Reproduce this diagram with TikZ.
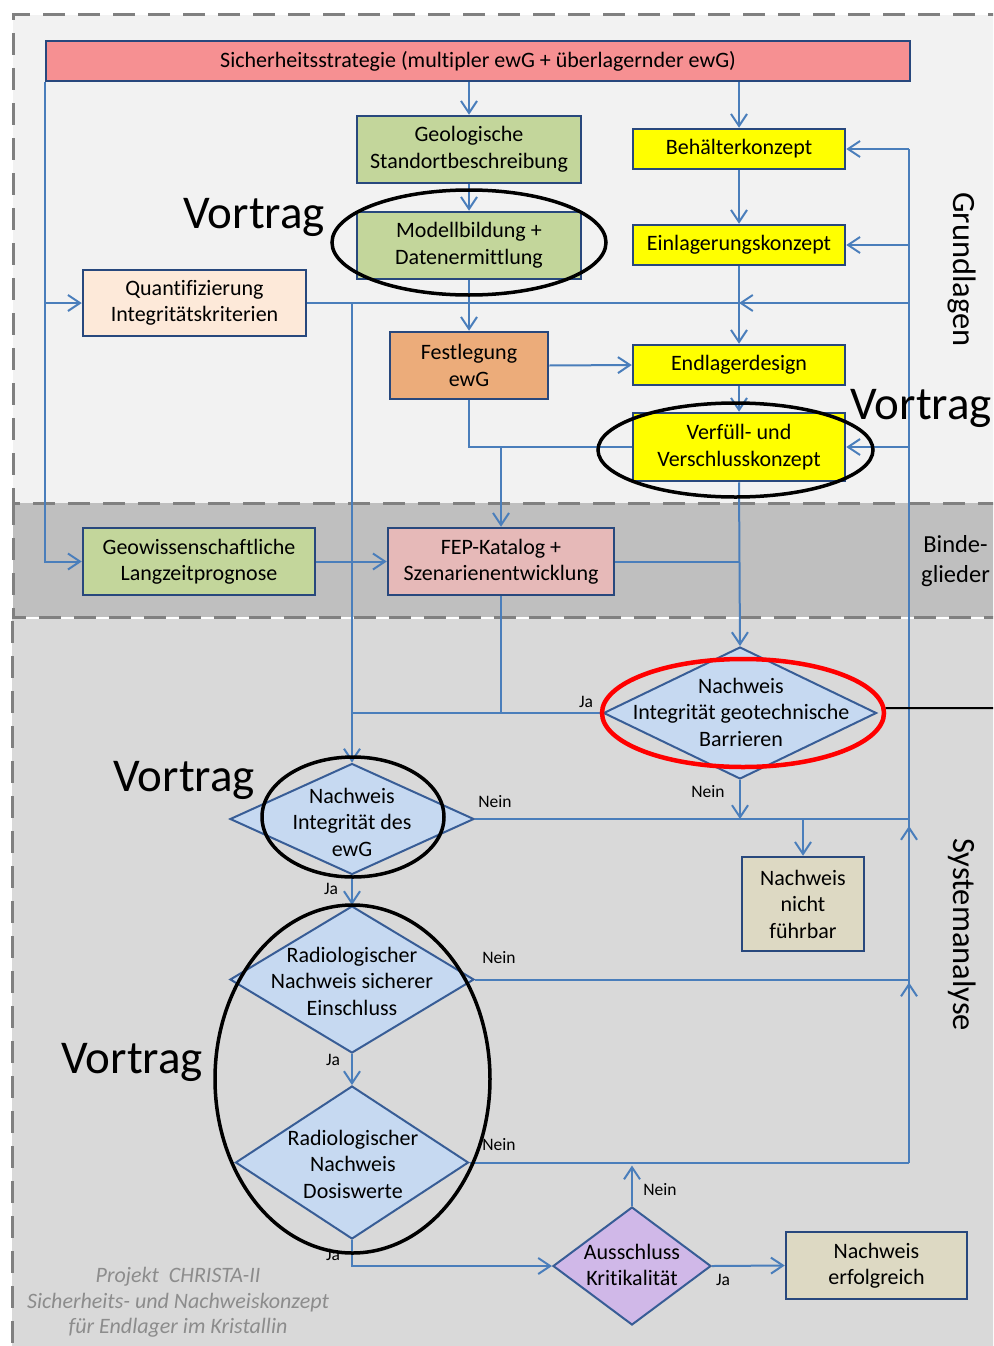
\documentclass[tikz,border=0pt]{standalone}
\usepackage{fontspec}
\setmainfont{Carlito}[Ligatures=NoCommon]
\usetikzlibrary{arrows.meta,shapes.geometric}

\definecolor{bgtop}{RGB}{242,242,242}
\definecolor{bgmid}{RGB}{191,191,191}
\definecolor{bglow}{RGB}{217,217,217}
\definecolor{framegray}{RGB}{128,128,128}
\definecolor{boxline}{RGB}{40,72,125}
\definecolor{linkblue}{RGB}{74,126,187}
\definecolor{dline}{RGB}{56,93,150}
\definecolor{stratfill}{RGB}{246,144,146}
\definecolor{geofill}{RGB}{195,214,155}
\definecolor{conceptfill}{RGB}{255,255,0}
\definecolor{quantfill}{RGB}{253,233,217}
\definecolor{ewgfill}{RGB}{236,172,122}
\definecolor{fepfill}{RGB}{230,185,184}
\definecolor{resultfill}{RGB}{221,217,195}
\definecolor{decfill}{RGB}{198,217,241}
\definecolor{critfill}{RGB}{208,184,232}
\definecolor{footgray}{RGB}{140,140,140}

\tikzset{
  box/.style={draw=boxline, line width=2.5pt, rectangle, inner sep=0pt, align=center,
    font=\fontsize{22}{26.5}\selectfont},
  decision/.style={draw=dline, line width=2pt, diamond, inner sep=0pt, fill=decfill},
  dtext/.style={align=center, inner sep=0pt, font=\fontsize{22}{26.5}\selectfont},
  link/.style={draw=linkblue, line width=2pt},
  arr/.style={link, -{Straight Barb[length=12pt,width=16pt]}},
  lbl/.style={inner sep=0pt, font=\fontsize{17.5}{20}\selectfont},
  talk/.style={inner sep=0pt, anchor=base west, font=\fontsize{47}{50}\selectfont},
  ring/.style={draw=black, line width=3.5pt, ellipse, inner sep=0pt},
  zone/.style={inner sep=0pt, font=\fontsize{32.5}{36}\selectfont},
  zoneframe/.style={draw=framegray, line width=3pt, dash pattern=on 22pt off 13pt},
  foot/.style={inner sep=0pt, anchor=base, text=footgray, font=\fontsize{22}{25}\selectfont\itshape},
}

\begin{document}
\begin{tikzpicture}[x=1pt,y=-1pt]
\useasboundingbox (0,0) rectangle (993,1346);
\clip (0,0) rectangle (993,1346);
\fill[white] (0,0) rectangle (993,1346);

% zones
\fill[bglow] (12,619) rectangle (1010,1360);
\fill[bgtop] (13,15) rectangle (1010,503);
\fill[bgmid] (13,503) rectangle (1010,617);
\draw[zoneframe] (1010,15) -- (13,15) -- (13,503) -- (1010,503);
\draw[zoneframe] (13,503) -- (13,617) -- (1010,617);
\draw[zoneframe] (12,621) -- (12,1360);

% boxes
\node[box, fill=stratfill, minimum width=864pt, minimum height=40pt] (strat) at (478,61)
  {Sicherheitsstrategie (multipler ewG + überlagernder ewG)};
\node[box, fill=geofill, minimum width=224pt, minimum height=67pt] (geo) at (469,149.5)
  {Geologische\\Standortbeschreibung};
\node[box, fill=geofill, minimum width=224pt, minimum height=67pt] (modell) at (469,245.5)
  {Modellbildung +\\Datenermittlung};
\node[box, fill=conceptfill, minimum width=212pt, minimum height=40pt] (beh) at (739,149)
  {Behälterkonzept};
\node[box, fill=conceptfill, minimum width=212pt, minimum height=40pt] (einl) at (739,245)
  {Einlagerungskonzept};
\node[box, fill=quantfill, minimum width=223pt, minimum height=66pt] (quant) at (194.5,303)
  {Quantifizierung\\Integritätskriterien};
\node[box, fill=ewgfill, minimum width=158pt, minimum height=67pt] (fest) at (469,365.5)
  {Festlegung\\ewG};
\node[box, fill=conceptfill, minimum width=212pt, minimum height=40pt] (endl) at (739,365)
  {Endlagerdesign};
\node[box, fill=conceptfill, minimum width=212pt, minimum height=68pt] (verf) at (739,447)
  {Verfüll- und\\Verschlusskonzept};
\node[box, fill=geofill, minimum width=232pt, minimum height=67pt] (geow) at (199,561.5)
  {Geowissenschaftliche\\Langzeitprognose};
\node[box, fill=fepfill, minimum width=226pt, minimum height=67pt] (fep) at (501,561.5)
  {FEP-Katalog +\\Szenarienentwicklung};
\node[box, fill=resultfill, minimum width=122pt, minimum height=94pt] (nfb) at (803,904)
  {Nachweis\\nicht\\führbar};
\node[box, fill=resultfill, minimum width=181pt, minimum height=67pt] (erf) at (876.5,1265.5)
  {Nachweis\\erfolgreich};

% decisions
\node[decision, minimum width=273pt, minimum height=132pt] (dgeo) at (740,713) {};
\node[decision, minimum width=244pt, minimum height=111pt] (dewg) at (352,819) {};
\node[decision, minimum width=244pt, minimum height=147pt] (dein) at (352,979.5) {};
\node[decision, minimum width=233pt, minimum height=153pt] (ddos) at (352,1162.5) {};
\node[decision, fill=critfill, minimum width=158pt, minimum height=118pt] (dkrit) at (632,1266) {};

\node[dtext] (tgeo) at (741,712) {Nachweis\\Integrität geotechnische\\Barrieren};
\node[dtext] (tewg) at (352,822) {Nachweis\\Integrität des\\ewG};
\node[dtext] (tein) at (352,981) {Radiologischer\\Nachweis sicherer\\Einschluss};
\node[dtext] (tdos) at (353,1164) {Radiologischer\\Nachweis\\Dosiswerte};
\node[dtext] (tkrit) at (632,1265) {Ausschluss\\Kritikalität};

% right-hand feedback column
\coordinate (rc) at (909,0);

% connectors
\draw[arr] (strat.south -| geo.north) -- (geo.north);
\draw[arr] (strat.south -| beh.north) -- (beh.north);
\draw[arr] (strat.south west) |- (quant.west);
\draw[arr] (strat.south west) |- (geow.west);
\draw[arr] (geo.south) -- (modell.north);
\draw[arr] (modell.south) -- (fest.north);
\draw[arr] (beh.south) -- (einl.north);
\draw[arr] (einl.south) -- (endl.north);
\draw[arr] (endl.south) -- (verf.north);
\draw[arr] (fest.east) -- (endl.west);
\draw[link] (fest.south) |- (verf.west);
\draw[arr] (verf.west -| fep.north) -- (fep.north);
\draw[link] (quant.east) -- (quant.east -| rc);
\draw[arr] (quant.east -| rc) -- (quant.east -| einl.south);
\draw[arr] (quant.east -| dewg.north) -- (dewg.north);
\draw[link] (rc |- beh.east) -- (rc |- ddos.east);
\draw[arr] (rc |- beh.east) -- (beh.east);
\draw[arr] (rc |- einl.east) -- (einl.east);
\draw[arr] (rc |- verf.east) -- (verf.east);
\draw[arr] (geow.east) -- (fep.west);
\draw[link] (fep.east) -- (fep.east -| verf.south);
\draw[arr] (verf.south) -- (dgeo.north);
\draw[link] (fep.south) -- (fep.south |- dgeo.west);
\draw[link] (dgeo.west) -- (dgeo.west -| dewg.north);
\draw[arr] (dgeo.south) -- (dgeo.south |- dewg.east);
\draw[link] (dewg.east) -- (rc |- dewg.east);
\draw[arr] (dewg.east -| nfb.north) -- (nfb.north);
\draw[arr] (dewg.south) -- (dein.north);
\draw[link] (dein.east) -- (rc |- dein.east);
\draw[arr, shorten >=7pt] (rc |- dein.east) -- (rc |- dewg.east);
\draw[arr] (dein.south) -- (ddos.north);
\draw[link] (ddos.east) -- (rc |- ddos.east);
\draw[arr, shorten >=3pt] (rc |- ddos.east) -- (rc |- dein.east);
\draw[arr] (ddos.south) |- (dkrit.west);
\draw[arr, shorten >=3pt] (dkrit.north) -- (dkrit.north |- ddos.east);
\draw[arr] (dkrit.east) -- (erf.west);

% branch labels
\node[lbl] (ja1) at (586,702) {Ja};
\node[lbl] (nein1) at (708,792) {Nein};
\node[lbl] (nein2) at (495,802) {Nein};
\node[lbl] (ja2) at (331,889) {Ja};
\node[lbl] (nein3) at (499,958) {Nein};
\node[lbl] (ja3) at (333,1060) {Ja};
\node[lbl] (nein4) at (499,1145) {Nein};
\node[lbl] (nein5) at (660,1190) {Nein};
\node[lbl] (ja4) at (333,1255) {Ja};
\node[lbl] (ja5) at (723,1280) {Ja};

% highlight rings
\node[ring, minimum width=274pt, minimum height=105pt] (eMod) at (469,242.5) {};
\node[ring, minimum width=275pt, minimum height=94pt] (eVerf) at (735.5,450) {};
\node[ring, minimum width=182pt, minimum height=120pt] (eEwg) at (353,817) {};
\node[ring, minimum width=275pt, minimum height=348pt] (eRad) at (352.5,1079) {};
\node[ring, draw=red, line width=4.5pt, minimum width=282pt, minimum height=108pt] (eGeo) at (743,713) {};
\coordinate (offright) at (1000,708);
\draw[line width=2pt] (eGeo.2) -- (offright);

% talk markers
\node[talk] (v1) at (183,228) {Vortrag};
\node[talk] (v2) at (850,419) {Vortrag};
\node[talk] (v3) at (113,791) {Vortrag};
\node[talk] (v4) at (61,1073) {Vortrag};

% zone titles
\node[zone, rotate=-90, anchor=base] (zg) at (953,269.5) {Grundlagen};
\node[zone, rotate=-90, anchor=base] (zs) at (953,934.5) {Systemanalyse};
\node[inner sep=0pt, align=center, font=\fontsize{24.5}{30}\selectfont] (zb) at (955.5,561) {Binde-\\glieder};

% project footer
\node[foot] (f1) at (178,1282) {Projekt~~CHRISTA-II};
\node[foot] (f2) at (178,1308) {Sicherheits- und Nachweiskonzept};
\node[foot] (f3) at (178,1333) {für Endlager im Kristallin};
\end{tikzpicture}
\end{document}
